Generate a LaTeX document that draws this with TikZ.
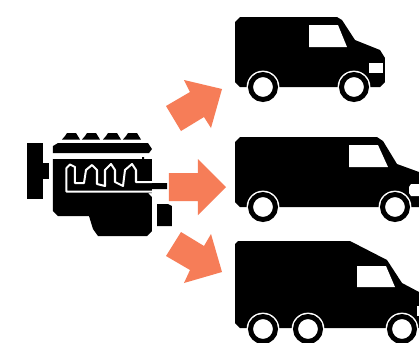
\documentclass[tikz,border=0pt]{standalone}
\definecolor{arrowc}{RGB}{246,125,88}
\tikzset{
  blockarrow/.style={fill=arrowc,draw=none},
  blk/.style={fill=black,draw=none},
  wht/.style={fill=white,draw=none},
  wheelc/.style={fill=white,draw=black,line width=3.75pt},
  halo/.style={fill=white,draw=none}
}
\newcommand{\wheelat}[2]{%
  \fill[halo] (#1,#2) circle (16.4);
  \filldraw[wheelc] (#1,#2) circle (12.5);}
\begin{document}
\begin{tikzpicture}[x=0.75pt,y=-0.75pt]
\useasboundingbox (0,0) rectangle (419,343);
\fill[white] (0,0) rectangle (419,343);
\clip (0,0) rectangle (419,343);
% arrows
\fill[blockarrow] (166,106)--(190,92)--(184,80)--(222,89)--(211,128)--(204,117)--(181,131)--cycle;
\fill[blockarrow] (169,173)--(198,173)--(198,159)--(226,187)--(198,215)--(198,201)--(169,201)--cycle;
\fill[blockarrow] (166,256)--(181,232)--(204,246)--(211,234)--(222,272)--(184,283)--(190,270)--cycle;
% engine
\fill[blk] (27,143) rectangle (43,199);
\fill[blk] (43,163) rectangle (49,179);
\foreach \a in {62,82,103,123}{
  \fill[blk] (\a,139.5)--(\a+3,136)--(\a+5,133)--(\a+14,133)--(\a+18,139.5)--cycle;
}
\fill[blk] (53,146)--(58,143)--(148,143)--(152,149)--(149,153)--(53,153)--cycle;
\fill[blk] (53,159)--(142,159)--(142,157)--(144,157)--(144,159)--(152,159)--(152,183)--(167,183)--(167,189)--(152,189)--(152,193)--(148,193)--(152,197)--(152,231)--(147,236)--(98,236)--(93,229)--(89,216)--(58,216)--(53,211)--cycle;
\draw[white,line width=1.5pt,line join=round]
 (152,191.5)--(66.5,191.5)--(66.5,168)--(70,164.5)--(75,167)--(75,183)--(84,183)--(86,170)--(92,165)--(97,170)--(97,184)--(105,186)--(105,170)--(111,164)--(115,170)--(115,182)--(123,186)--(125,170)--(132,164)--(136,170)--(136,182)--(152,182);
\fill[blk] (157,204) -- (168,204) -- (172,206) -- (172,226) -- (157,226) -- cycle;
% van 1
\fill[blk] (235,22)--(240,17)--(337,17)--(342,20)--(355,40)--(380,50)--(385,58)--(385,82)--(380,87)--(240,87)--(235,82)--cycle;
\fill[wht] (309,25)--(338,25)--(347,47)--(309,47)--cycle;
\fill[wht] (369,63) rectangle (383,73);
\wheelat{263}{87}
\wheelat{354}{87}
% van 2
\fill[blk] (235,142)--(240,137)--(377,137)--(383,141)--(397,164)--(419,172)--(425,178)--(425,207)--(240,207)--(235,202)--cycle;
\fill[wht] (349,145)--(378,145)--(388,167)--(349,167)--cycle;
\fill[wht] (411,184)--(425,184)--(425,196)--(411,196)--(409,193)--(409,187)--cycle;
\wheelat{263}{207}
\wheelat{395}{207}
% van 3
\fill[blk] (235,244)--(238,241)--(350,241)--(387,260)--(402,283)--(419,292)--(425,296)--(425,328)--(240,328)--(235,323)--cycle;
\fill[wht] (357,266)--(386,266)--(395,287)--(357,287)--cycle;
\fill[wht] (417,306) rectangle (425,316);
\wheelat{263}{329}
\wheelat{308}{329}
\wheelat{402}{329}
\end{tikzpicture}
\end{document}
